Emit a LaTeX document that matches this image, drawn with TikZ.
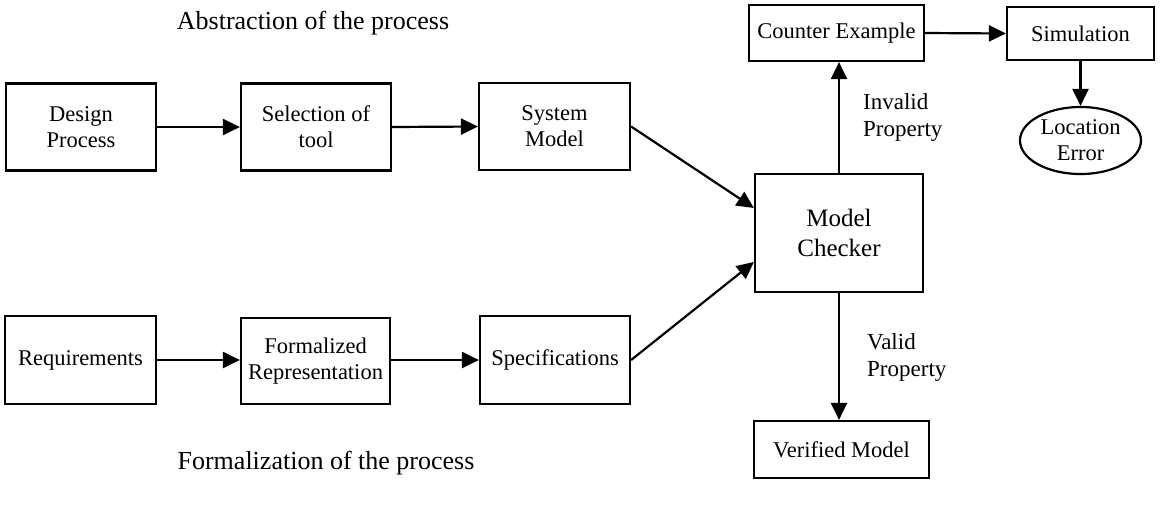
\documentclass[tikz,border=0pt]{standalone}
\usepackage{fontspec}
\setmainfont{Liberation Serif}
\usetikzlibrary{arrows.meta,shapes.geometric}
\begin{document}
\begin{tikzpicture}[x=1pt,y=-1pt,
  box/.style={draw,line width=2.2pt,rectangle,inner sep=0pt,align=center,font=\fontsize{22.5}{26}\selectfont},
  lbl/.style={align=left,font=\fontsize{23}{27}\selectfont,inner sep=0pt},
  ttl/.style={font=\fontsize{26}{30}\selectfont,inner sep=0pt},
  arr/.style={line width=2.2pt,-{Triangle[length=17pt,width=16pt]}}]
\useasboundingbox (0,0) rectangle (1160,515);
\node[box,minimum width=150pt,minimum height=87pt] (dp) at (81,127) {Design\\Process};
\node[box,minimum width=150pt,minimum height=87pt] (sel) at (316,127) {Selection of\\tool};
\node[box,minimum width=151pt,minimum height=87pt] (sm) at (554.5,126.5) {System\\Model};
\node[box,minimum width=168pt,minimum height=118pt,font=\fontsize{25}{30}\selectfont] (mc) at (839,233) {Model\\Checker};
\node[box,minimum width=175pt,minimum height=56pt] (ce) at (836.5,33) {Counter Example};
\node[box,minimum width=147pt,minimum height=53pt] (sim) at (1080.5,33.5) {Simulation};
\node[box,ellipse,minimum width=121pt,minimum height=67pt] (le) at (1080.5,140.5) {Location\\Error};
\node[box,minimum width=151pt,minimum height=88pt] (req) at (80.5,360) {Requirements};
\node[box,minimum width=149pt,minimum height=86pt] (fr) at (315.5,361) {Formalized\\Representation};
\node[box,minimum width=150pt,minimum height=88pt] (spec) at (555,360) {Specifications};
\node[box,minimum width=175pt,minimum height=57pt] (vm) at (841.5,449.5) {Verified Model};
\node[ttl] (abs) at (313,23) {Abstraction of the process};
\node[ttl] (form) at (326,463) {Formalization of the process};
\node[lbl,anchor=west] (inv) at (863,117) {Invalid\\Property};
\node[lbl,anchor=west] (val) at (867,357) {Valid\\Property};
\draw[arr] (dp.east) -- (sel.west);
\draw[arr] (sel.east) -- (sm.west);
\draw[arr] (req.east) -- (fr.west |- req.east);
\draw[arr] (fr.east |- req.east) -- (spec.west);
\draw[arr] (sm.east) -- (mc.west |- 0,208);
\draw[arr] (spec.east) -- (mc.west |- 0,262);
\draw[arr] (mc.north) -- (ce.south -| mc.north);
\draw[arr] (ce.east) -- (sim.west);
\draw[arr] (sim.south) -- (le.north);
\draw[arr] (mc.south) -- (vm.north -| mc.south);
\end{tikzpicture}
\end{document}
